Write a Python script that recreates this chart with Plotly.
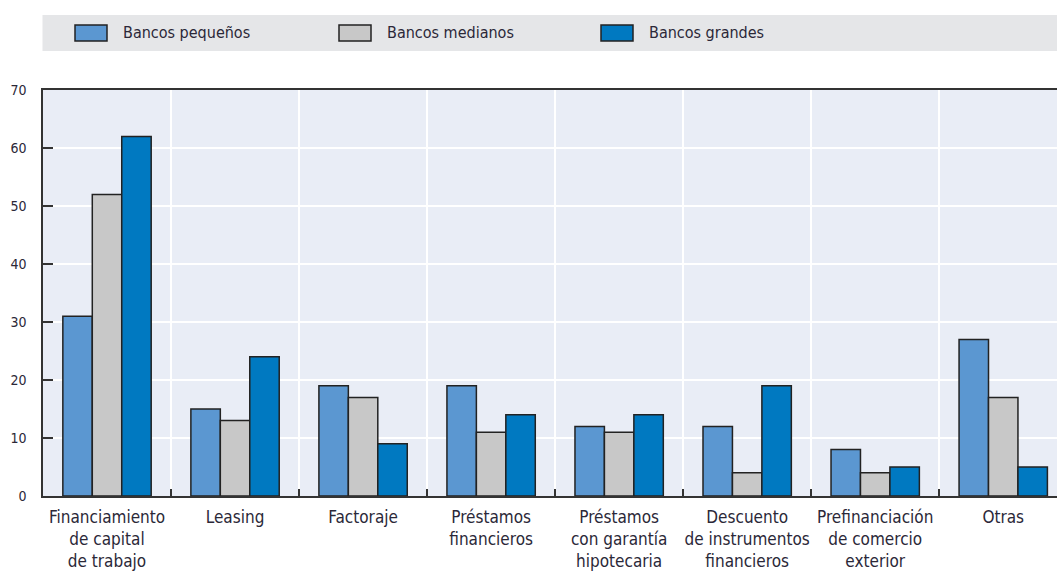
import plotly.graph_objects as go

# Categories and values per bank size
categories = [
    "Financiamiento<br>de capital<br>de trabajo",
    "Leasing",
    "Factoraje",
    "Préstamos<br>financieros",
    "Préstamos<br>con garantía<br>hipotecaria",
    "Descuento<br>de instrumentos<br>financieros",
    "Prefinanciación<br>de comercio<br>exterior",
    "Otras",
]
series_names = ["Bancos pequeños", "Bancos medianos", "Bancos grandes"]
pequenos = [31, 15, 19, 19, 12, 12, 8, 27]
medianos = [52, 13, 17, 11, 11, 4, 4, 17]
grandes = [62, 24, 9, 14, 14, 19, 5, 5]
y_ticks = [0, 10, 20, 30, 40, 50, 60, 70]

colors = ["#5b97d1", "#c8c8c8", "#0079c1"]
FONT = "DejaVu Sans Condensed, Liberation Sans Narrow, Roboto, sans-serif"
TEXT = "#2b2838"

fig = go.Figure()
for name, vals, col in zip(series_names, [pequenos, medianos, grandes], colors):
    fig.add_trace(go.Bar(
        x=categories, y=vals, name=name,
        marker=dict(color=col, line=dict(color="#222222", width=1.5)),
        showlegend=False,
    ))

# Legend band drawn as shapes + text
shapes = [dict(type="rect", xref="paper", yref="paper", x0=-0.0005, x1=1.0,
               y0=(574 - 51 - 78) / 406, y1=(574 - 15 - 78) / 406,
               fillcolor="#e5e6e8", line=dict(width=0), layer="below")]
annotations = []
swatch_x = [75, 339, 601]
for name, col, sx in zip(series_names, colors, swatch_x):
    x0 = (sx - 43) / 1014
    x1 = (sx + 32 - 43) / 1014
    shapes.append(dict(type="rect", xref="paper", yref="paper",
                       x0=x0, x1=x1,
                       y0=(574 - 41 - 78) / 406, y1=(574 - 25 - 78) / 406,
                       fillcolor=col, line=dict(color="#222222", width=1.5)))
    annotations.append(dict(xref="paper", yref="paper",
                            x=(sx + 46 - 43) / 1014, y=(574 - 33 - 78) / 406,
                            text=name, showarrow=False, xanchor="left", yanchor="middle",
                            font=dict(family=FONT, size=16, color=TEXT)))

fig.update_layout(
    width=1057, height=574,
    margin=dict(l=43, r=0, t=90, b=78),
    paper_bgcolor="white",
    plot_bgcolor="#e9edf6",
    barmode="group",
    bargap=0.31,
    bargroupgap=0,
    shapes=shapes,
    annotations=annotations,
    font=dict(family=FONT, color=TEXT),
)
fig.update_xaxes(
    type="category",
    range=[-0.5, 7.42],
    tickson="boundaries",
    ticks="inside", ticklen=7, tickcolor="#333333", tickwidth=1.5,
    showgrid=True, gridcolor="white", gridwidth=1.5,
    showline=True, linecolor="#333333", linewidth=1.5, mirror=True,
    tickangle=0, automargin=False,
    ticklabelstandoff=5,
    tickfont=dict(family=FONT, size=17, color=TEXT),
)
fig.update_yaxes(
    range=[0, 70], tickvals=y_ticks,
    ticks="inside", ticklen=10, tickcolor="#333333", tickwidth=1.5,
    showgrid=True, gridcolor="white", gridwidth=1.5,
    showline=True, linecolor="#333333", linewidth=1.5,
    zeroline=False, automargin=False,
    ticklabelstandoff=12,
    tickfont=dict(family=FONT, size=14, color=TEXT),
)

fig.write_html("out.html")
